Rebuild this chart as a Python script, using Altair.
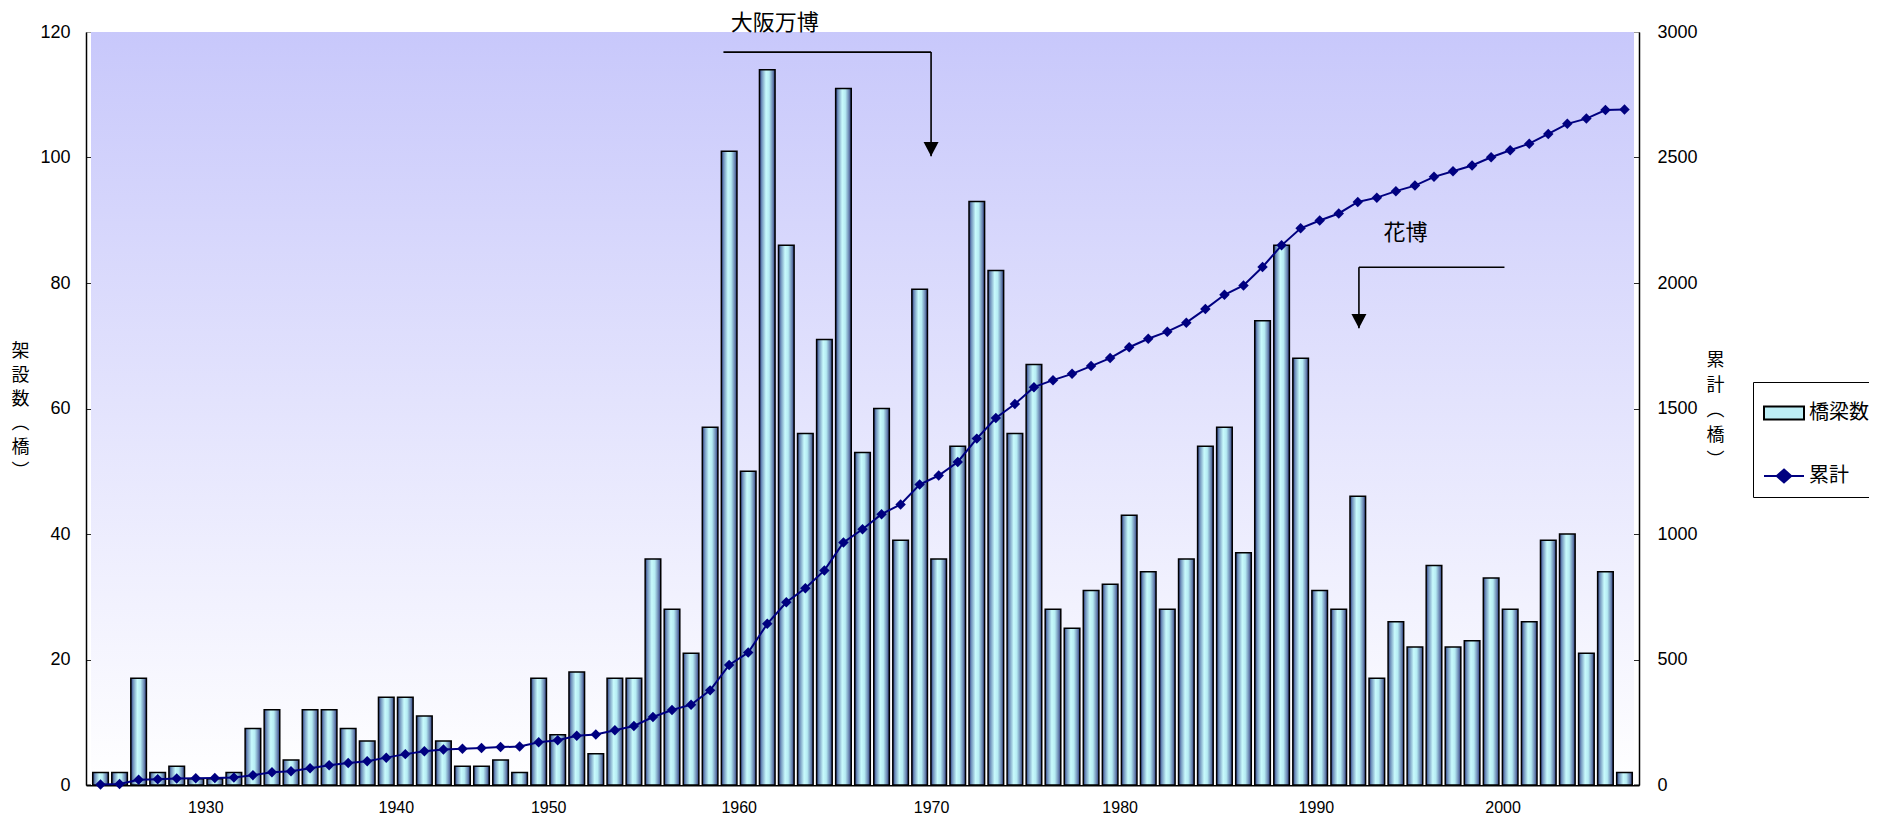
import altair as alt
import pandas as pd

# ---- data ----
bridges = [2, 2, 17, 2, 3, 1, 1, 2, 9, 12,
           4, 12, 12, 9, 7, 14, 14, 11, 7, 3,
           3, 4, 2, 17, 8, 18, 5, 17, 17, 36,
           28, 21, 57, 101, 50, 114, 86, 56, 71, 111,
           53, 60, 39, 79, 36, 54, 93, 82, 56, 67,
           28, 25, 31, 32, 43, 34, 28, 36, 54, 57,
           37, 74, 86, 68, 31, 28, 46, 17, 26, 22,
           35, 22, 23, 33, 28, 26, 39, 40, 21, 34,
           2]
cumulative = [2, 4, 21, 23, 26, 27, 28, 30, 39, 51,
              55, 67, 79, 88, 95, 109, 123, 134, 141, 144,
              147, 151, 153, 170, 178, 196, 201, 218, 235, 271,
              299, 320, 377, 478, 528, 642, 728, 784, 855, 966,
              1019, 1079, 1118, 1197, 1233, 1287, 1380, 1462, 1518, 1585,
              1613, 1638, 1669, 1701, 1744, 1778, 1806, 1842, 1896, 1953,
              1990, 2064, 2150, 2218, 2249, 2277, 2323, 2340, 2366, 2388,
              2423, 2445, 2468, 2501, 2529, 2555, 2594, 2634, 2655, 2689,
              2691]
bar_index = list(range(len(bridges)))

x_tick_pos = [5.5, 15.5, 23.5, 33.5, 43.6, 53.5, 63.8, 73.6]
x_tick_labels = ["1930", "1940", "1950", "1960", "1970", "1980", "1990", "2000"]
x_extent = [-0.5, 80.5]
left_ticks = [0, 20, 40, 60, 80, 100, 120]
right_ticks = [0, 500, 1000, 1500, 2000, 2500, 3000]

series_names = ["橋梁数", "累計"]
left_title = ["架", "設", "数", "︵", "橋", "︶"]
right_title = ["累", "計", "︵", "橋", "︶"]

note_texts = ["大阪万博", "花博"]
note_x = [35.4, 68.5]
note_y = [121.5, 87.9]
seg_x = [32.7, 43.6, 66.06, 66.06]
seg_x2 = [43.6, 43.6, 73.7, 66.06]
seg_y = [116.8, 116.8, 82.5, 82.5]
seg_y2 = [116.8, 100.2, 82.5, 72.8]
tip_x = [43.6, 66.06]
tip_y = [100.2, 72.8]

# ---- tables ----
df = pd.DataFrame({"idx": bar_index, "bridges": bridges, "cum": cumulative})
notes_df = pd.DataFrame({"text": note_texts, "x": note_x, "y": note_y})
seg_df = pd.DataFrame({"x": seg_x, "x2": seg_x2, "y": seg_y, "y2": seg_y2})
tip_df = pd.DataFrame({"x": tip_x, "y": tip_y})
legend_df = pd.DataFrame({"series": series_names})
bg_df = pd.DataFrame({"x": [x_extent[0]], "x2": [x_extent[1]],
                      "y": [left_ticks[0]], "y2": [left_ticks[-1]]})

NUM_FONT = "Liberation Sans"
JP_FONT = "Noto Sans CJK JP"

xscale = alt.Scale(domain=x_extent, nice=False, zero=False)
yl = alt.Scale(domain=[left_ticks[0], left_ticks[-1]], nice=False)
yr = alt.Scale(domain=[right_ticks[0], right_ticks[-1]], nice=False)

label_expr = f"{x_tick_labels}[indexof({x_tick_pos}, datum.value)]"

X_AXIS = alt.Axis(values=x_tick_pos, labelExpr=label_expr, title=None, grid=False,
                  ticks=False, domainColor="black", domainWidth=2,
                  labelFont=NUM_FONT, labelFontSize=16, labelColor="black",
                  labelPadding=14, labelFlush=False, labelOverlap=False)

YL_AXIS = alt.Axis(
    values=left_ticks, grid=True, format="d",
    gridColor=alt.condition("datum.value == 120", alt.value("#9a9a9a"), alt.value("#2a2a2a")),
    gridWidth=1, ticks=False, domainColor="black", domainWidth=1.5,
    labelFont=NUM_FONT, labelFontSize=18, labelColor="black", labelPadding=16,
    title=left_title, titleAngle=0, titleX=-66, titleY=310, titleAlign="center",
    titleBaseline="top", titleLineHeight=24, titleFont=JP_FONT, titleFontSize=18,
    titleFontWeight="normal", titleColor="black")

YR_AXIS = alt.Axis(
    orient="right", values=right_ticks, grid=False, ticks=False, format="d",
    domainColor="black", domainWidth=1.5,
    labelFont=NUM_FONT, labelFontSize=18, labelColor="black", labelPadding=18,
    title=right_title, titleAngle=0, titleX=76, titleY=319, titleAlign="center",
    titleBaseline="top", titleLineHeight=25, titleFont=JP_FONT, titleFontSize=18,
    titleFontWeight="normal", titleColor="black")

bg_grad = alt.LinearGradient(gradient="linear", x1=0, x2=0, y1=0, y2=1,
                             stops=[alt.GradientStop(color="#c8c8fb", offset=0),
                                    alt.GradientStop(color="#ffffff", offset=1)])

background = alt.Chart(bg_df).mark_rect(color=bg_grad, strokeWidth=0).encode(
    x=alt.X("x:Q", scale=xscale, axis=X_AXIS), x2="x2:Q",
    y=alt.Y("y:Q", scale=yl, axis=YL_AXIS), y2="y2:Q")

bar_grad = alt.LinearGradient(
    gradient="linear", x1=0, x2=1, y1=0, y2=0,
    stops=[alt.GradientStop(color="#24327a", offset=0),
           alt.GradientStop(color="#7092bc", offset=0.15),
           alt.GradientStop(color="#c8fafc", offset=0.42),
           alt.GradientStop(color="#b6ecf3", offset=0.62),
           alt.GradientStop(color="#6c88b4", offset=0.85),
           alt.GradientStop(color="#283676", offset=1)])

bars = alt.Chart(df).mark_bar(size=15.6, color=bar_grad, stroke="black", strokeWidth=1.5).encode(
    x=alt.X("idx:Q", scale=xscale, axis=X_AXIS),
    y=alt.Y("bridges:Q", scale=yl, axis=YL_AXIS),
)

segs = alt.Chart(seg_df).mark_rule(color="black", strokeWidth=1.6).encode(
    x=alt.X("x:Q", scale=xscale, axis=X_AXIS), x2="x2:Q",
    y=alt.Y("y:Q", scale=yl, axis=YL_AXIS), y2="y2:Q")

tips = alt.Chart(tip_df).mark_point(
    shape="M-1,-1.9L1,-1.9L0,0Z", size=225, filled=True, color="black", opacity=1).encode(
    x=alt.X("x:Q", scale=xscale, axis=X_AXIS), y=alt.Y("y:Q", scale=yl, axis=YL_AXIS))

notes = alt.Chart(notes_df).mark_text(font=JP_FONT, fontSize=22, color="black",
                                      align="center", baseline="middle").encode(
    x=alt.X("x:Q", scale=xscale, axis=X_AXIS), y=alt.Y("y:Q", scale=yl, axis=YL_AXIS),
    text="text:N")

left_group = alt.layer(background, bars, segs, tips, notes)

line = alt.Chart(df).mark_line(color="#000080", strokeWidth=2).encode(
    x=alt.X("idx:Q", scale=xscale, axis=X_AXIS),
    y=alt.Y("cum:Q", scale=yr, axis=YR_AXIS))

pts = alt.Chart(df).mark_point(shape="diamond", size=110, filled=True, color="#000080", opacity=1).encode(
    x=alt.X("idx:Q", scale=xscale, axis=X_AXIS), y=alt.Y("cum:Q", scale=yr, axis=YR_AXIS))

right_group = alt.layer(line, pts)

rect_path = "M-1,-0.33L1,-0.33L1,0.33L-1,0.33Z"
line_path = "M-1,0L1,0M0,-0.32L0.36,0L0,0.32L-0.36,0Z"


def make_legend():
    return alt.Legend(title=None, orient="none", legendX=1667, legendY=350,
                      strokeColor="black", fillColor="white", padding=10, rowPadding=31,
                      symbolSize=1600, symbolStrokeWidth=2, symbolOpacity=1, labelFont=JP_FONT,
                      labelFontSize=20, labelColor="black", labelOffset=4, labelLimit=300)


legend_layer = alt.Chart(legend_df).mark_point(filled=True, size=0, strokeWidth=2, opacity=1).encode(
    shape=alt.Shape("series:N", scale=alt.Scale(domain=series_names, range=[rect_path, line_path]),
                    legend=make_legend()),
    fill=alt.Fill("series:N", scale=alt.Scale(domain=series_names, range=["#bdeef5", "#000080"]),
                  legend=make_legend()),
    stroke=alt.Stroke("series:N", scale=alt.Scale(domain=series_names, range=["#000000", "#000080"]),
                      legend=make_legend()),
)

chart = alt.layer(left_group, right_group, legend_layer).resolve_scale(
    y="independent"
).properties(
    width=1553, height=753,
    autosize=alt.AutoSizeParams(type="none"),
    padding={"left": 78, "top": 24, "right": 230, "bottom": 30},
    background="white",
).configure_view(
    stroke="#9a9a9a", strokeWidth=1,
)

chart.save("out.html", embed_options={"renderer": "svg", "actions": False})
